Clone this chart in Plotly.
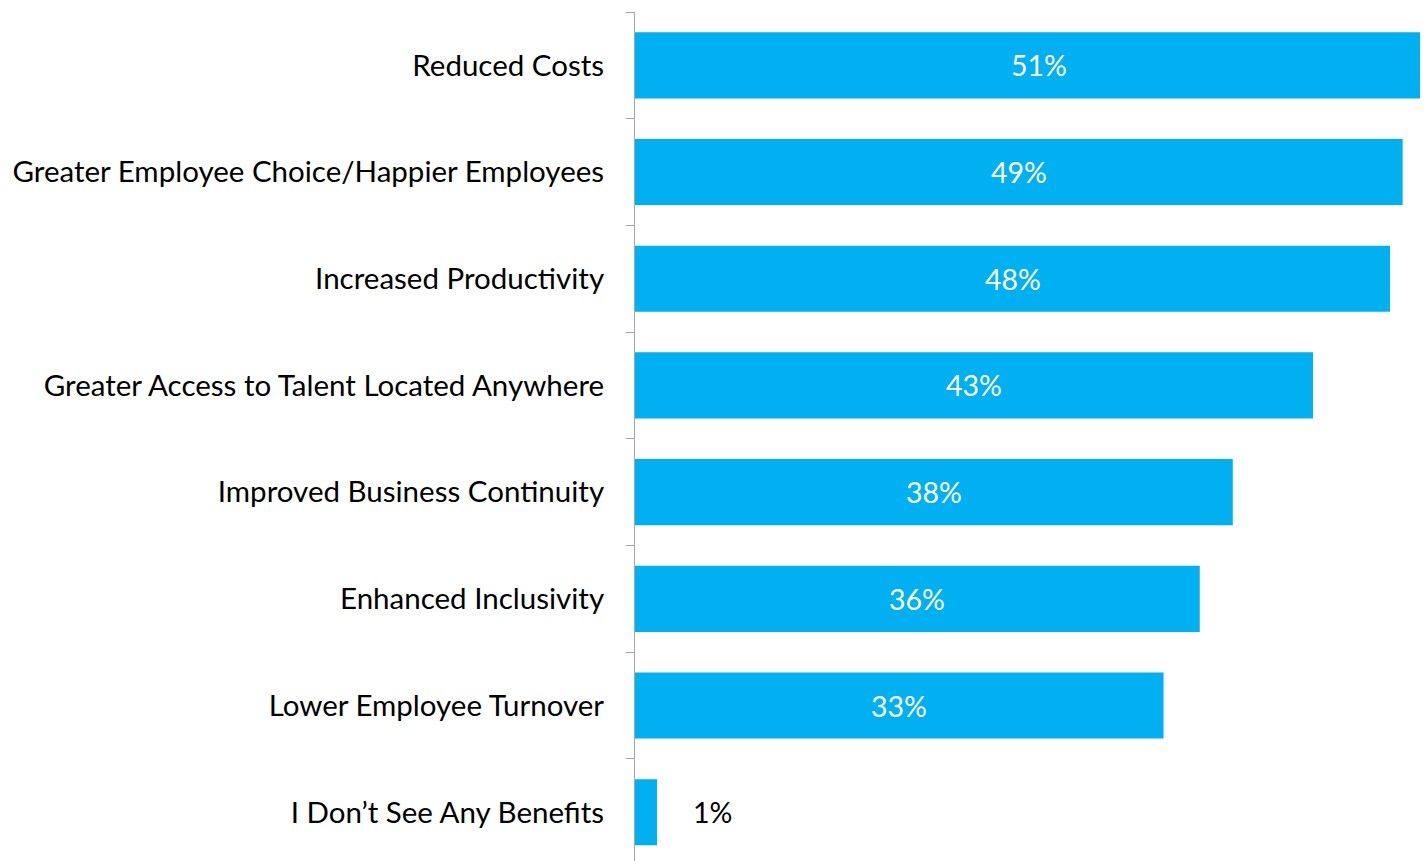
import plotly.graph_objects as go

categories = [
    "Reduced Costs",
    "Greater Employee Choice/Happier Employees",
    "Increased Productivity",
    "Greater Access to Talent Located Anywhere",
    "Improved Business Continuity",
    "Enhanced Inclusivity",
    "Lower Employee Turnover",
    "I Don’t See Any Benefits",
]
values = [51.4, 48.8, 48.0, 43.1, 38.0, 35.9, 33.6, 1.4]
labels = ["51%", "49%", "48%", "43%", "38%", "36%", "33%", "1%"]

BLUE = "#00B0F0"
FONT = "Lato, Calibri, sans-serif"

fig = go.Figure(go.Bar(
    x=values, y=categories, orientation="h",
    marker=dict(color=BLUE, line=dict(width=0)),
    hoverinfo="skip",
))

# value labels: centered inside long bars, outside the tiny one
for cat, v, lab in zip(categories, values, labels):
    if v > 5:
        fig.add_annotation(x=v / 2, y=cat, text=lab, showarrow=False,
                           font=dict(family=FONT, size=28.5, color="white"))
    else:
        fig.add_annotation(x=v, y=cat, text=lab, showarrow=False,
                           xanchor="left", xshift=34,
                           font=dict(family=FONT, size=28.5, color="black"))

# page body has an 8px margin, so the figure is a bit smaller than the window
fig.update_layout(
    width=1420, height=853,
    margin=dict(l=627, r=0, t=4, b=0),
    paper_bgcolor="white", plot_bgcolor="white",
    bargap=0.38, showlegend=False,
    font=dict(family=FONT, size=29.5, color="black"),
)
fig.update_xaxes(range=[0, 50.41], visible=False, showgrid=False, zeroline=False)
fig.update_yaxes(
    range=[7.457, -0.5], tickson="boundaries",
    ticks="outside", ticklen=8, tickcolor="#A6A6A6", tickwidth=1,
    showline=True, linecolor="#A6A6A6", linewidth=1,
    showgrid=False, ticklabelstandoff=24,
    tickfont=dict(family=FONT, size=29.5, color="black"),
)

fig.write_html("out.html")
